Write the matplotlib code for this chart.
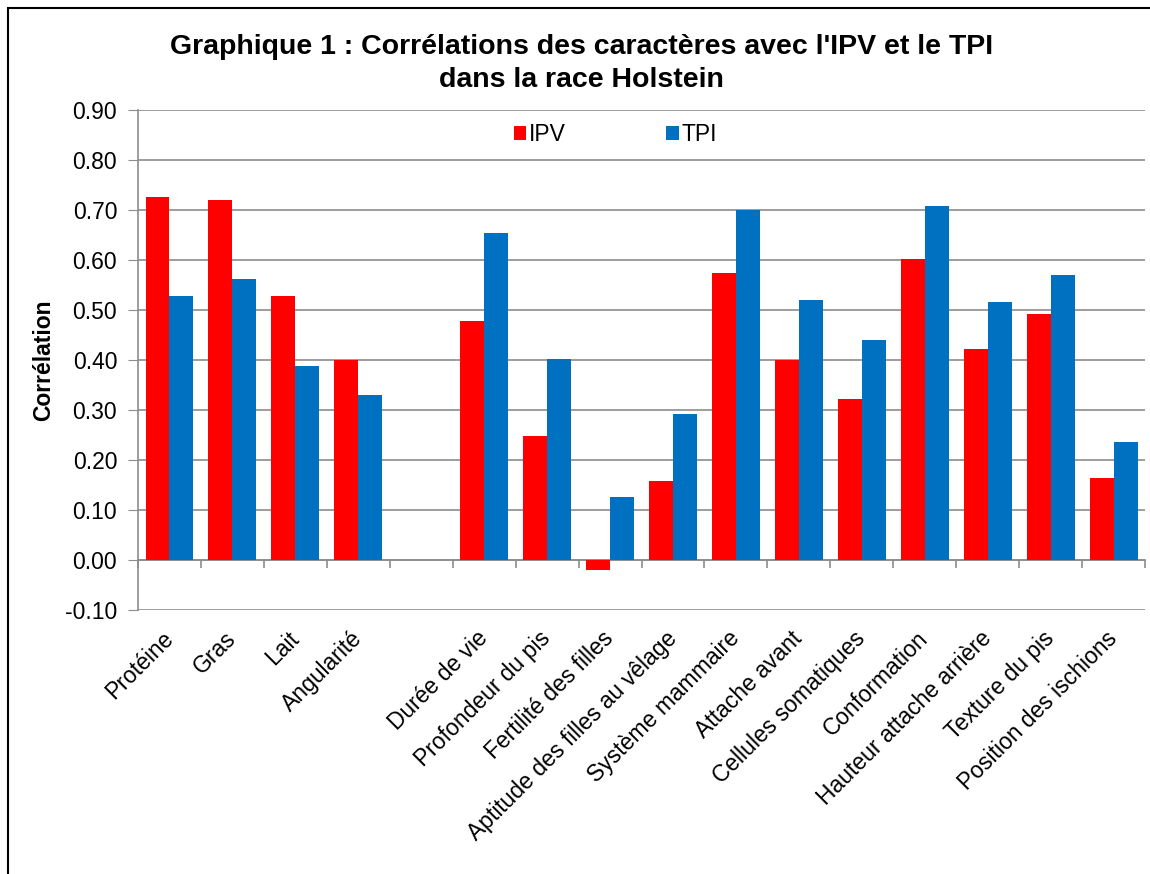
import numpy as np
import matplotlib.pyplot as plt
from matplotlib import rcParams
from matplotlib.patches import Rectangle
from matplotlib.transforms import ScaledTranslation

rcParams['font.family'] = ['Liberation Sans', 'DejaVu Sans']

# données
caracteres = ['Protéine', 'Gras', 'Lait', 'Angularité', '',
              'Durée de vie', 'Profondeur du pis', 'Fertilité des filles',
              'Aptitude des filles au vêlage', 'Système mammaire', 'Attache avant',
              'Cellules somatiques', 'Conformation', 'Hauteur attache arrière',
              'Texture du pis', 'Position des ischions']
ipv = [0.727, 0.721, 0.529, 0.401, np.nan,
       0.478, 0.249, -0.020, 0.159, 0.574, 0.401,
       0.323, 0.603, 0.423, 0.493, 0.165]
tpi = [0.528, 0.563, 0.389, 0.331, np.nan,
       0.655, 0.402, 0.127, 0.293, 0.700, 0.521,
       0.441, 0.708, 0.516, 0.570, 0.237]

rouge = '#FF0000'
bleu = '#0070C0'
gris = '#8C8C8C'
fs = 16.5

fig = plt.figure(figsize=(11.5, 8.74), dpi=100)
ax = fig.add_axes([0.12, 0.302, 0.8757, 0.572])

x = np.arange(len(caracteres))
w = 0.38
ax.bar(x - w / 2, ipv, w, color=rouge, label='IPV', zorder=3)
ax.bar(x + w / 2, tpi, w, color=bleu, label='TPI', zorder=3)

ax.set_xlim(-0.5, len(caracteres) - 0.5)
ax.set_ylim(-0.1, 0.9)
ax.set_yticks(np.arange(-0.1, 0.91, 0.1))
ax.set_yticklabels([f'{v:.2f}' for v in np.arange(-0.1, 0.91, 0.1)], fontsize=fs)
ax.yaxis.grid(True, color=gris, linewidth=1.2, zorder=0)
ax.set_axisbelow(True)

ax.set_xticks(x)
ax.set_xticklabels(caracteres, rotation=45, ha='right', rotation_mode='anchor', fontsize=fs)
ax.tick_params(axis='x', length=0, pad=12)
ax.tick_params(axis='y', length=7, color=gris, pad=8)
decalage = ScaledTranslation(-8 / 100, 0, fig.dpi_scale_trans)
for lab in ax.get_xticklabels():
    lab.set_transform(lab.get_transform() + decalage)

for s in ['top', 'right', 'bottom']:
    ax.spines[s].set_visible(False)
ax.spines['left'].set_color(gris)
ax.spines['left'].set_linewidth(1.2)

# axe des catégories sur la ligne zéro
sec = ax.secondary_xaxis(0.1)
sec.set_xticks(np.arange(-0.5, len(caracteres), 1.0))
sec.set_xticklabels([])
sec.tick_params(length=6, color=gris, width=1.2)
sec.spines['bottom'].set_color(gris)
sec.spines['bottom'].set_linewidth(1.2)

ax.set_ylabel('Corrélation', fontsize=fs, fontweight='bold', labelpad=7)

ax.legend(loc='upper center', bbox_to_anchor=(0.474, 1.015), ncol=2, frameon=False,
          fontsize=fs, handlelength=0.55, handleheight=0.55, handletextpad=0.1,
          columnspacing=4.4)

fig.suptitle("Graphique 1 : Corrélations des caractères avec l'IPV et le TPI\ndans la race Holstein",
             fontsize=20.5, fontweight='bold', x=0.506, y=0.961, linespacing=1.35)

fig.patches.append(Rectangle((0.007, -0.5), 2.0, 0.9908 + 0.5, transform=fig.transFigure,
                             fill=False, edgecolor='black', linewidth=1.5))

plt.savefig('out.png', dpi=100)
